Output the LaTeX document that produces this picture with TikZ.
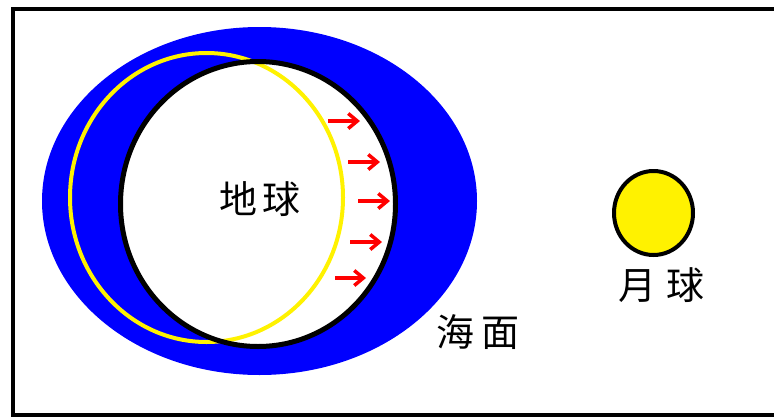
\documentclass[tikz,border=0pt]{standalone}
\usepackage{fontspec}
\newfontfamily\cjk{Noto Sans CJK SC}
\usetikzlibrary{arrows.meta}

\begin{document}
\begin{tikzpicture}[
    x=1pt,
    y=-1pt,
    frame/.style={draw=black, line width=4pt},
    rim/.style={draw=black, line width=5pt},
    caption/.style={
      font=\cjk\fontsize{38}{38}\selectfont,
      text=black,
      inner sep=0pt
    },
    tide/.style={
      -{Straight Barb[length=9pt,width=15pt]},
      draw=red,
      line width=3.5pt
    }
  ]
  \useasboundingbox (0,0) rectangle (774,418);

  % frame, open to the right
  \draw[frame] (790,9) -- (13,9) -- (13,415) -- (790,415);

  % water bulge
  \fill[blue] (259.5,201) ellipse [x radius=217.5pt, y radius=174pt];

  % earth, then the shifted outline, then the rim on top
  \fill[white] (258,204) ellipse [x radius=137.5pt, y radius=142.5pt];
  \draw[yellow, line width=4pt] (206.5,197.5)
    ellipse [x radius=136.5pt, y radius=144.5pt];
  \draw[rim] (258,204) ellipse [x radius=137.5pt, y radius=142.5pt];

  % pull towards the moon
  \foreach \y/\xa/\xb in {121/328/360, 162/348/380, 201/358/390,
                          242/350/382, 278/335/366}
    \draw[tide] (\xa,\y) -- (\xb,\y);

  % moon
  \draw[frame, fill=yellow] (653.5,213)
    ellipse [x radius=39.5pt, y radius=42pt];

  \node[caption] (earth) at (260,199) {地\hspace{6pt}球};
  \node[caption] (moon) at (661,285) {月\hspace{10pt}球};
  \node[caption] (sea) at (478,332) {海\hspace{8pt}面};
\end{tikzpicture}
\end{document}
